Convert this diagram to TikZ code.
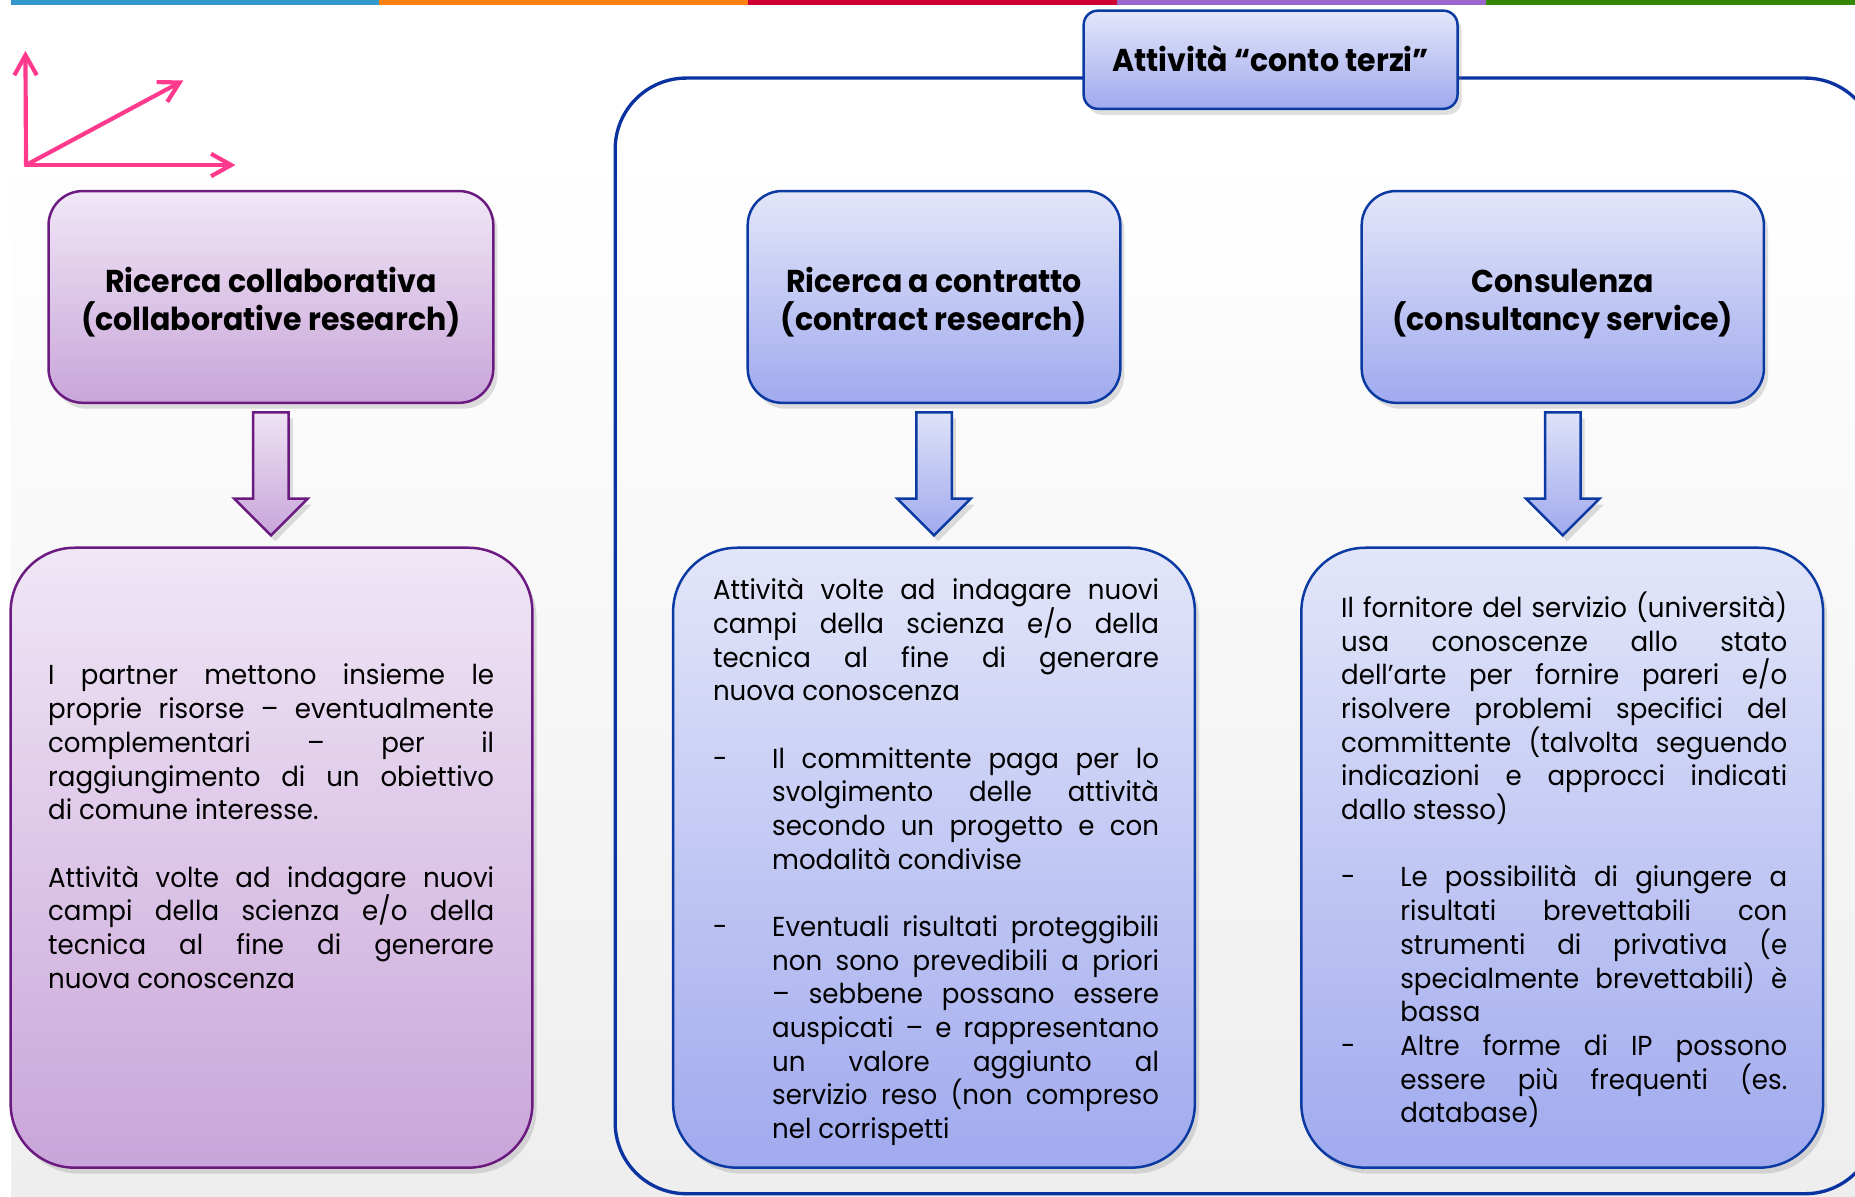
\documentclass[tikz,border=0pt]{standalone}
\usepackage{fontspec}
\setmainfont{Poppins}[FakeStretch=0.95]
\usetikzlibrary{shadows,arrows.meta}

\definecolor{purpleline}{RGB}{107,26,128}
\definecolor{purpletop}{RGB}{240,231,246}
\definecolor{purplebottom}{RGB}{201,165,217}
\definecolor{blueline}{RGB}{12,58,163}
\definecolor{bluetop}{RGB}{227,230,249}
\definecolor{bluebottom}{RGB}{160,170,238}
\definecolor{frameblue}{RGB}{10,50,160}
\definecolor{axispink}{RGB}{255,58,140}
\definecolor{bggray}{RGB}{238,238,238}
\definecolor{stripeblue}{RGB}{51,153,204}
\definecolor{stripeorange}{RGB}{255,128,16}
\definecolor{stripered}{RGB}{204,0,51}
\definecolor{stripepurple}{RGB}{153,102,204}
\definecolor{stripegreen}{RGB}{51,136,0}

\def\blockarrow{++(-1.5,0.7) -- ++(0,7.3) -- ++(-1.6,0) -- ++(3.1,3.1) -- ++(3.1,-3.1) -- ++(-1.6,0) -- ++(0,-7.3) -- cycle}
\newcommand\dashitem{\par\hangindent=5mm\hangafter=1\noindent\makebox[5mm][l]{-}}
\newcommand\gap{\par\vspace{8.1pt}}
\tolerance=10000 \hbadness=10000 \hyphenpenalty=10000 \lineskiplimit=-10pt

\tikzset{
  softshadow/.style={drop shadow={opacity=.25,shadow xshift=.35mm,shadow yshift=-.5mm}},
  purplebox/.style={draw=purpleline,line width=.6pt,top color=purpletop,bottom color=purplebottom,softshadow},
  bluebox/.style={draw=blueline,line width=.6pt,top color=bluetop,bottom color=bluebottom,softshadow},
  headbox/.style={rounded corners=2.9mm,minimum width=#1,minimum height=17.9mm,align=center,text height=16.2pt,text depth=0pt,font=\bfseries\fontsize{7.6}{9.1}\selectfont},
  bodybox/.style={rounded corners=5.4mm,minimum width=44.1mm,minimum height=52.4mm},
  bodytext/.style={anchor=base west,text width=37.7mm,align=justify,inner sep=0pt,font=\fontsize{6.6}{8.1}\selectfont},
  axis/.style={axispink,line width=1pt,line cap=round,-{Straight Barb[length=1.7mm,width=1.9mm]}},
}

\begin{document}
\begin{tikzpicture}[x=1mm,y=-1mm]
\useasboundingbox (0,0) rectangle (156.8,101.1);
% background and stripe
\shade[top color=white,bottom color=bggray] (0.93,12.2) rectangle (156.8,101.1);
\foreach \a/\b/\c in {0.93/32/stripeblue,32/63.2/stripeorange,63.2/94.4/stripered,94.4/125.6/stripepurple,125.6/156.8/stripegreen}
  \fill[\c] (\a,0) rectangle (\b,0.45);

% axes
\coordinate (o) at (2.2,13.95);
\draw[axis] (o) -- (2.15,4.3);
\draw[axis] (o) -- (15.5,6.8);
\draw[axis] (o) -- (19.9,13.95);

% conto terzi frame
\draw[frameblue,line width=.8pt,rounded corners=6mm] (52.0,6.6) rectangle (158.6,100.9);
\node[bluebox,rounded corners=1.2mm,minimum width=31.6mm,minimum height=8.3mm,text height=5.7pt,text depth=0pt,font=\bfseries\fontsize{7.6}{9.1}\selectfont] (terzi) at (107.4,5.05) {Attività “conto terzi”};

% top boxes
\node[purplebox,headbox=37.6mm] (collab) at (22.9,25.1) {Ricerca collaborativa\\(collaborative research)};
\node[bluebox,headbox=31.5mm] (contract) at (78.95,25.1) {Ricerca a contratto\\(contract research)};
\node[bluebox,headbox=34.0mm] (consult) at (132.1,25.1) {Consulenza\\(consultancy service)};

% bottom boxes
\node[purplebox,bodybox] (collabbody) at (22.95,72.5) {};
\node[bluebox,bodybox] (contractbody) at (78.95,72.5) {};
\node[bluebox,bodybox] (consultbody) at (132.05,72.5) {};

% block arrows
\draw[purplebox] (collab.south) \blockarrow;
\draw[bluebox] (contract.south) \blockarrow;
\draw[bluebox] (consult.south) \blockarrow;

% texts
\node[bodytext] (collabtxt) at (4.0,57.9) {I partner mettono insieme le\linebreak proprie risorse – eventualmente\linebreak complementari – per il\linebreak raggiungimento di un obiettivo\linebreak di comune interesse.\gap
Attività volte ad indagare nuovi\linebreak campi della scienza e/o della\linebreak tecnica al fine di generare\linebreak nuova conoscenza\par};

\node[bodytext] (contracttxt) at (60.2,50.7) {Attività volte ad indagare nuovi\linebreak campi della scienza e/o della\linebreak tecnica al fine di generare\linebreak nuova conoscenza\gap
\dashitem Il committente paga per lo\linebreak svolgimento delle attività\linebreak secondo un progetto e con\linebreak modalità condivise\gap
\dashitem Eventuali risultati proteggibili\linebreak non sono prevedibili a priori\linebreak – sebbene possano essere\linebreak auspicati – e rappresentano\linebreak un valore aggiunto al\linebreak servizio reso (non compreso\linebreak nel corrispetti\par};

\node[bodytext] (consulttxt) at (113.3,52.2) {Il fornitore del servizio (università)\linebreak usa conoscenze allo stato\linebreak dell’arte per fornire pareri e/o\linebreak risolvere problemi specifici del\linebreak committente (talvolta seguendo\linebreak indicazioni e approcci indicati\linebreak dallo stesso)\gap
\dashitem Le possibilità di giungere a\linebreak risultati brevettabili con\linebreak strumenti di privativa (e\linebreak specialmente brevettabili) è\linebreak bassa
\dashitem Altre forme di IP possono\linebreak essere più frequenti (es.\linebreak database)\par};
\end{tikzpicture}
\end{document}
